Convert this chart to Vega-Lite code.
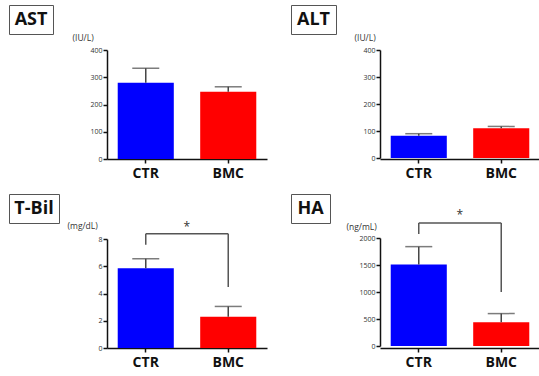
{
  "$schema": "https://vega.github.io/schema/vega-lite/v6.json",
  "padding": {"left": 8, "top": 4, "right": 0, "bottom": 0},
  "background": "white",
  "datasets": {
    "ast": [{"group": "CTR", "mean": 280, "upper": 333}, {"group": "BMC", "mean": 247, "upper": 265}],
    "alt": [{"group": "CTR", "mean": 82, "upper": 90}, {"group": "BMC", "mean": 110, "upper": 117}],
    "tbil": [{"group": "CTR", "mean": 5.85, "upper": 6.55}, {"group": "BMC", "mean": 2.3, "upper": 3.05}],
    "ha": [{"group": "CTR", "mean": 1510, "upper": 1840}, {"group": "BMC", "mean": 440, "upper": 600}],
    "tbil_legs": [{"group": "CTR", "lo": 7.57, "hi": 8.38}, {"group": "BMC", "lo": 4.48, "hi": 8.38}],
    "tbil_top": [{"from": "CTR", "to": "BMC", "y": 8.38}],
    "tbil_star": [{"group": "CTR", "y": 8.9, "label": "*"}],
    "ha_legs": [{"group": "CTR", "lo": 2074, "hi": 2280}, {"group": "BMC", "lo": 1000, "hi": 2280}],
    "ha_top": [{"from": "CTR", "to": "BMC", "y": 2280}],
    "ha_star": [{"group": "CTR", "y": 2430, "label": "*"}]
  },
  "spacing": 13,
  "vconcat": [
    {
      "spacing": 23,
      "hconcat": [
        {
          "spacing": 18,
          "hconcat": [
            {"width": 44, "height": 29, "view": {"stroke": "#555", "strokeWidth": 1}, "data": {"values": [{"label": "AST"}]},
             "mark": {"type": "text", "fontSize": 18, "fontWeight": "bold", "font": "Open Sans", "color": "#111"},
             "encoding": {"text": {"field": "label"}}},
            {
              "width": 160, "height": 154,
              "data": {"name": "ast"},
              "encoding": {
                "x": {"field": "group", "type": "nominal", "scale": {"domain": ["CTR", "BMC"], "paddingInner": 0.32, "paddingOuter": 0.13}, "title": null},
                "y": {"field": "mean", "type": "quantitative", "scale": {"domain": [0, 400], "nice": false, "range": [154, 45]}, "title": "(IU/L)",
                      "axis": {"values": [0, 100, 200, 300, 400], "tickCount": 5, "labelOverlap": false, "labelBound": false, "titleAngle": 0, "titleAlign": "left", "titleBaseline": "middle", "titleX": -35, "titleY": 32}}
              },
              "layer": [
                {"mark": {"type": "bar"},
                 "encoding": {"color": {"field": "group", "type": "nominal", "scale": {"domain": ["CTR", "BMC"], "range": ["#0000ff", "#ff0000"]}, "legend": null}}},
                {"mark": {"type": "rule", "color": "#444", "strokeWidth": 1.5},
                 "encoding": {"y2": {"field": "upper"}}},
                {"mark": {"type": "tick", "color": "#444", "thickness": 1.5, "size": 27},
                 "encoding": {"y": {"field": "upper", "type": "quantitative"}}}
              ]
            }
          ]
        },
        {
          "spacing": 17,
          "hconcat": [
            {"width": 45, "height": 29, "view": {"stroke": "#555", "strokeWidth": 1}, "data": {"values": [{"label": "ALT"}]},
             "mark": {"type": "text", "fontSize": 18, "fontWeight": "bold", "font": "Open Sans", "color": "#111"},
             "encoding": {"text": {"field": "label"}}},
            {
              "width": 160, "height": 154,
              "data": {"name": "alt"},
              "encoding": {
                "x": {"field": "group", "type": "nominal", "scale": {"domain": ["CTR", "BMC"], "paddingInner": 0.32, "paddingOuter": 0.13}, "title": null},
                "y": {"field": "mean", "type": "quantitative", "scale": {"domain": [0, 400], "nice": false, "range": [153, 45]}, "title": "(IU/L)",
                      "axis": {"values": [0, 100, 200, 300, 400], "tickCount": 5, "labelOverlap": false, "labelBound": false, "titleAngle": 0, "titleAlign": "left", "titleBaseline": "middle", "titleX": -26, "titleY": 32}}
              },
              "layer": [
                {"mark": {"type": "bar"},
                 "encoding": {"color": {"field": "group", "type": "nominal", "scale": {"domain": ["CTR", "BMC"], "range": ["#0000ff", "#ff0000"]}, "legend": null}}},
                {"mark": {"type": "rule", "color": "#444", "strokeWidth": 1.5},
                 "encoding": {"y2": {"field": "upper"}}},
                {"mark": {"type": "tick", "color": "#444", "thickness": 1.5, "size": 27},
                 "encoding": {"y": {"field": "upper", "type": "quantitative"}}}
              ]
            }
          ]
        }
      ]
    },
    {
      "spacing": 23,
      "hconcat": [
        {
          "spacing": 7,
          "hconcat": [
            {"width": 50, "height": 29, "view": {"stroke": "#555", "strokeWidth": 1}, "data": {"values": [{"label": "T-Bil"}]},
             "mark": {"type": "text", "fontSize": 18, "fontWeight": "bold", "font": "Open Sans", "color": "#111"},
             "encoding": {"text": {"field": "label"}}},
            {
              "width": 160, "height": 154,
              "encoding": {
                "x": {"field": "group", "type": "nominal", "scale": {"domain": ["CTR", "BMC"], "paddingInner": 0.32, "paddingOuter": 0.13}, "title": null},
                "y": {"field": "mean", "type": "quantitative", "scale": {"domain": [0, 8], "nice": false, "range": [154, 45]}, "title": "(mg/dL)",
                      "axis": {"values": [0, 2, 4, 6, 8], "tickCount": 5, "labelOverlap": false, "labelBound": false, "titleAngle": 0, "titleAlign": "left", "titleBaseline": "middle", "titleX": -40, "titleY": 31}}
              },
              "layer": [
                {"data": {"name": "tbil"}, "mark": {"type": "bar"},
                 "encoding": {"color": {"field": "group", "type": "nominal", "scale": {"domain": ["CTR", "BMC"], "range": ["#0000ff", "#ff0000"]}, "legend": null}}},
                {"data": {"name": "tbil"}, "mark": {"type": "rule", "color": "#444", "strokeWidth": 1.5},
                 "encoding": {"y2": {"field": "upper"}}},
                {"data": {"name": "tbil"}, "mark": {"type": "tick", "color": "#444", "thickness": 1.5, "size": 27},
                 "encoding": {"y": {"field": "upper", "type": "quantitative"}}},
                {"data": {"name": "tbil_legs"}, "mark": {"type": "rule", "color": "#555", "strokeWidth": 1.5},
                 "encoding": {"y": {"field": "lo", "type": "quantitative"}, "y2": {"field": "hi"}}},
                {"data": {"name": "tbil_top"}, "mark": {"type": "rule", "color": "#555", "strokeWidth": 1.5},
                 "encoding": {"x": {"field": "from", "type": "nominal"}, "x2": {"field": "to"}, "y": {"field": "y", "type": "quantitative"}}},
                {"data": {"name": "tbil_star"}, "mark": {"type": "text", "dx": 41, "fontSize": 12, "font": "Open Sans", "color": "#333"},
                 "encoding": {"y": {"field": "y", "type": "quantitative"}, "text": {"field": "label"}}}
              ]
            }
          ]
        },
        {
          "spacing": 15,
          "hconcat": [
            {"width": 39, "height": 29, "view": {"stroke": "#555", "strokeWidth": 1}, "data": {"values": [{"label": "HA"}]},
             "mark": {"type": "text", "fontSize": 18, "fontWeight": "bold", "font": "Open Sans", "color": "#111"},
             "encoding": {"text": {"field": "label"}}},
            {
              "width": 160, "height": 154,
              "encoding": {
                "x": {"field": "group", "type": "nominal", "scale": {"domain": ["CTR", "BMC"], "paddingInner": 0.32, "paddingOuter": 0.13}, "title": null},
                "y": {"field": "mean", "type": "quantitative", "scale": {"domain": [0, 2000], "nice": false, "range": [152, 44]}, "title": "(ng/mL)",
                      "axis": {"values": [0, 500, 1000, 1500, 2000], "tickCount": 5, "format": "d", "labelOverlap": false, "labelBound": false, "titleAngle": 0, "titleAlign": "left", "titleBaseline": "middle", "titleX": -34, "titleY": 32}}
              },
              "layer": [
                {"data": {"name": "ha"}, "mark": {"type": "bar"},
                 "encoding": {"color": {"field": "group", "type": "nominal", "scale": {"domain": ["CTR", "BMC"], "range": ["#0000ff", "#ff0000"]}, "legend": null}}},
                {"data": {"name": "ha"}, "mark": {"type": "rule", "color": "#444", "strokeWidth": 1.5},
                 "encoding": {"y2": {"field": "upper"}}},
                {"data": {"name": "ha"}, "mark": {"type": "tick", "color": "#444", "thickness": 1.5, "size": 27},
                 "encoding": {"y": {"field": "upper", "type": "quantitative"}}},
                {"data": {"name": "ha_legs"}, "mark": {"type": "rule", "color": "#555", "strokeWidth": 1.5},
                 "encoding": {"y": {"field": "lo", "type": "quantitative"}, "y2": {"field": "hi"}}},
                {"data": {"name": "ha_top"}, "mark": {"type": "rule", "color": "#555", "strokeWidth": 1.5},
                 "encoding": {"x": {"field": "from", "type": "nominal"}, "x2": {"field": "to"}, "y": {"field": "y", "type": "quantitative"}}},
                {"data": {"name": "ha_star"}, "mark": {"type": "text", "dx": 41, "fontSize": 12, "font": "Open Sans", "color": "#333"},
                 "encoding": {"y": {"field": "y", "type": "quantitative"}, "text": {"field": "label"}}}
              ]
            }
          ]
        }
      ]
    }
  ],
  "config": {
    "view": {"stroke": null},
    "axis": {"domainColor": "#111", "domainWidth": 1.5, "tickColor": "#111", "tickWidth": 1.5, "grid": false, "labelFont": "Open Sans", "titleFont": "Open Sans", "titleFontSize": 8.5, "titleFontWeight": "normal", "titleColor": "#333"},
    "axisY": {"tickSize": 4, "labelFontSize": 7, "labelColor": "#333", "labelPadding": 1},
    "axisX": {"tickSize": 4, "labelFontSize": 14, "labelFontWeight": "bold", "labelColor": "#111", "labelAngle": 0, "labelPadding": 3}
  }
}
